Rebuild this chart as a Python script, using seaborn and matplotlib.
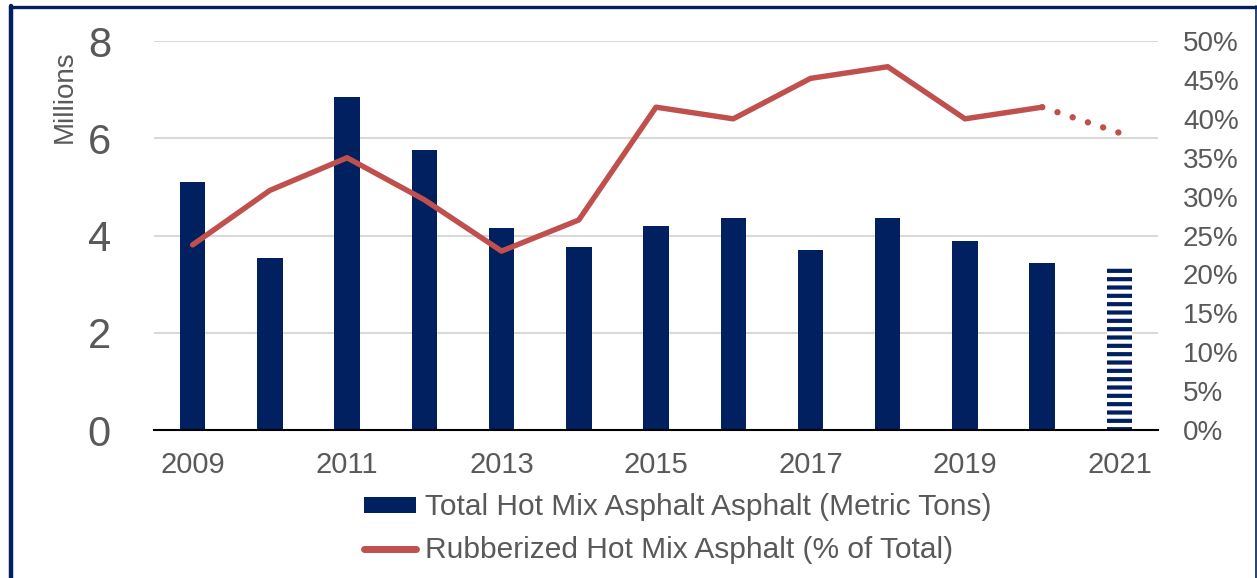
import numpy as np
import pandas as pd
import matplotlib.pyplot as plt
import matplotlib.ticker as mtick
from matplotlib.patches import Patch
from matplotlib.lines import Line2D
import seaborn as sns

years = [2009, 2010, 2011, 2012, 2013, 2014, 2015, 2016, 2017, 2018, 2019, 2020, 2021]
total_tons_m = [5.10, 3.54, 6.85, 5.76, 4.16, 3.77, 4.20, 4.36, 3.70, 4.36, 3.89, 3.44, 3.33]
rubber_share = [23.8, 30.8, 35.0, 29.6, 23.0, 27.0, 41.5, 40.0, 45.2, 46.7, 40.0, 41.5, 38.2]
tick_years = years[::2]

navy = '#002060'
red = '#C0504D'
grey = '#595959'

sns.set_style('white')
plt.rcParams['font.family'] = ['Liberation Sans', 'DejaVu Sans']
plt.rcParams['hatch.linewidth'] = 3.0

df = pd.DataFrame({'Year': [str(y) for y in years],
                   'Total': total_tons_m,
                   'Share': [s / 100 for s in rubber_share]})
df['pos'] = np.arange(len(df))

fig = plt.figure(figsize=(12.57, 5.78), dpi=100)
ax = fig.add_axes([0.1225, 0.256, 0.7988, 0.673])

# bars (left axis, millions of tons)
sns.barplot(data=df, x='Year', y='Total', color=navy, width=0.33,
            saturation=1, linewidth=0, ax=ax)
last = ax.patches[-1]  # 2021 estimate -> striped bar
last.set_facecolor('white')
last.set_edgecolor(navy)
last.set_hatch('--')
last.set_linewidth(0)

# line (right axis, share in %)
ax2 = ax.twinx()
sns.lineplot(data=df.iloc[:-1], x='pos', y='Share', color=red, lw=3.9,
             solid_capstyle='round', ax=ax2)
sns.lineplot(data=df.iloc[-2:], x='pos', y='Share', color=red, lw=4.6, ax=ax2)
print(len(ax2.lines), [l.get_xdata() for l in ax2.lines])
dots = ax2.lines[-1]  # 2020 -> 2021 projection drawn dotted
dots.set_linestyle((0, (0.01, 2.5)))
dots.set_dash_capstyle('round')

ax.set_xlim(-0.5, len(years) - 0.5)
ax.set_ylim(0, 8)
ax2.set_ylim(0, 0.5)

# x ticks: labels every 2 years at centres, tick marks at boundaries
ax.set_xticks([years.index(y) for y in tick_years])
ax.set_xticklabels([str(y) for y in tick_years])
ax.set_xticks(np.arange(-0.5, len(years), 1), minor=True)
ax.tick_params(axis='x', which='major', length=0, labelsize=21,
               labelcolor=grey, pad=15)
ax.tick_params(axis='x', which='minor', length=6, width=1.5,
               color='black', direction='out')
ax.set_xlabel('')

ax.set_yticks([0, 2, 4, 6, 8])
ax.tick_params(axis='y', length=0, labelsize=30, labelcolor=grey, pad=31)
ax.yaxis.grid(True, color='#D9D9D9', lw=1.5)
ax.set_axisbelow(True)
ax.set_ylabel('Millions', fontsize=20, color=grey)
ax.yaxis.set_label_coords(-0.076, 0.856)

ax2.set_yticks(np.arange(0, 0.51, 0.05))
ax2.yaxis.set_major_formatter(mtick.PercentFormatter(1, decimals=0))
ax2.tick_params(axis='y', length=0, labelsize=20, labelcolor=grey, pad=18)
ax2.set_ylabel('')

for s in ['left', 'top', 'right']:
    ax.spines[s].set_visible(False)
for s in ['left', 'top', 'right', 'bottom']:
    ax2.spines[s].set_visible(False)
ax.spines['bottom'].set_color('black')
ax.spines['bottom'].set_linewidth(1.5)

handles = [Patch(facecolor=navy, edgecolor='none'),
           Line2D([], [], color=red, lw=5, solid_capstyle='round')]
labels = ['Total Hot Mix Asphalt Asphalt (Metric Tons)',
          'Rubberized Hot Mix Asphalt (% of Total)']
fig.legend(handles, labels, loc='center', bbox_to_anchor=(0.539, 0.085),
           frameon=False, fontsize=21.5, labelcolor=grey, handlelength=1.75,
           handleheight=0.45, handletextpad=0.3, labelspacing=0.5)

# outer frame
fig.add_artist(Line2D([11 / 1257, 11 / 1257], [0, 1 - 6 / 578],
                      transform=fig.transFigure, color=navy, lw=3.2))
fig.add_artist(Line2D([9.5 / 1257, 1 - 1 / 1257], [1 - 6.5 / 578, 1 - 6.5 / 578],
                      transform=fig.transFigure, color=navy, lw=2.4))
fig.add_artist(Line2D([1 - 1.5 / 1257, 1 - 1.5 / 1257], [0, 1 - 6 / 578],
                      transform=fig.transFigure, color=navy, lw=1.2))

fig.savefig('out.png', dpi=100)
